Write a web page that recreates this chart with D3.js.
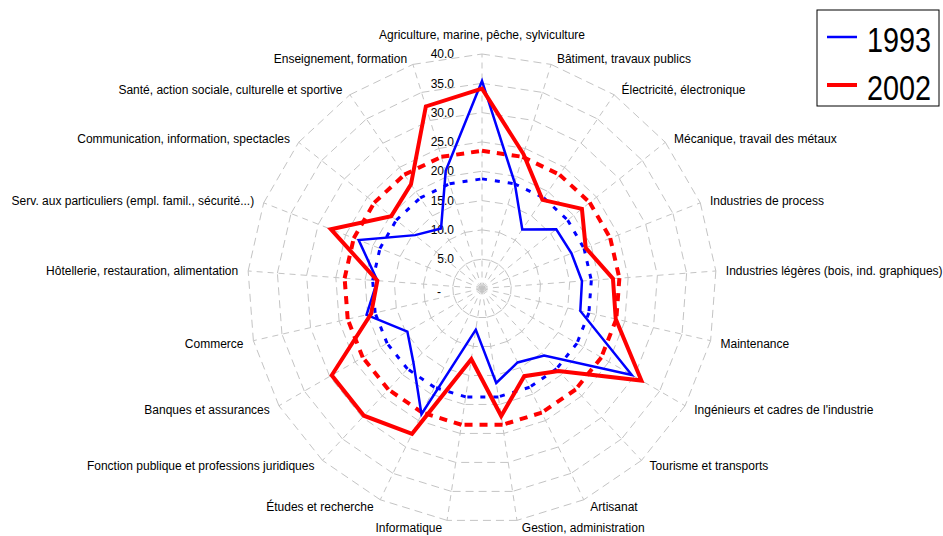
<!DOCTYPE html>
<html>
<head>
<meta charset="utf-8">
<script src="https://cdn.jsdelivr.net/npm/d3@7"></script>
<style>
  body { margin: 0; background: #fff; }
  svg { display: block; font-family: "Liberation Sans", Arial, sans-serif; }
</style>
</head>
<body>
<svg id="chart" width="943" height="536"></svg>
<script>
// Categories, clockwise from the top
const categories = [
    "Agriculture, marine, pêche, sylviculture",
    "Bâtiment, travaux publics",
    "Électricité, électronique",
    "Mécanique, travail des métaux",
    "Industries de process",
    "Industries légères (bois, ind. graphiques)",
    "Maintenance",
    "Ingénieurs et cadres de l'industrie",
    "Tourisme et transports",
    "Artisanat",
    "Gestion, administration",
    "Informatique",
    "Études et recherche",
    "Fonction publique et professions juridiques",
    "Banques et assurances",
    "Commerce",
    "Hôtellerie, restauration, alimentation",
    "Serv. aux particuliers (empl. famil., sécurité...)",
    "Communication, information, spectacles",
    "Santé, action sociale, culturelle et sportive",
    "Enseignement, formation"
];
const values1993 = [35.4, 18.9, 12.2, 16.2, 16.4, 17.1, 17.2, 29.5, 15.6, 14.0, 16.3, 7.1, 23.8, 17.2, 14.7, 20.2, 17.9, 22.6, 14.6, 12.4, 21.0];
const values2002 = [34.1, 24.0, 18.3, 21.8, 19.0, 22.4, 23.4, 31.4, 19.2, 16.6, 22.0, 12.2, 27.5, 29.6, 29.6, 19.4, 17.9, 27.7, 19.8, 21.5, 32.5];
const mean1993 = 18.7;
const mean2002 = 23.5;
const tickValues = [0, 5, 10, 15, 20, 25, 30, 35, 40];
const legendLabels = ["1993", "2002"];

const cx = 482, cy = 288.5;
const R = 234.5;
const n = categories.length;

const svg = d3.select("#chart");
const r = d3.scaleLinear().domain([0, 40]).range([0, R]);
const angle = d3.scaleLinear().domain([0, n]).range([0, 2 * Math.PI]);

const g = svg.append("g").attr("transform", `translate(${cx},${cy})`);

const pt = (i, v) => [r(v) * Math.sin(angle(i)), -r(v) * Math.cos(angle(i))];

// Spokes
g.append("g")
    .selectAll("line")
    .data(d3.range(n))
    .join("line")
    .attr("x1", 0).attr("y1", 0)
    .attr("x2", i => pt(i, 40)[0])
    .attr("y2", i => pt(i, 40)[1])
    .attr("stroke", "#c4c4c4")
    .attr("stroke-width", 1)
    .attr("stroke-dasharray", "6,5");

// Rings, drawn side by side so the dash restarts on every spoke like Excel
function ringSegments(v) {
    return d3.range(n).map(i => [pt(i, v), pt((i + 1) % n, v)]);
}
function dashedPolygon(parent, v, color, width, dash) {
    parent.append("g")
        .selectAll("line")
        .data(ringSegments(v))
        .join("line")
        .attr("x1", d => d[0][0]).attr("y1", d => d[0][1])
        .attr("x2", d => d[1][0]).attr("y2", d => d[1][1])
        .attr("stroke", color)
        .attr("stroke-width", width)
        .attr("stroke-dasharray", dash);
}
tickValues.filter(v => v > 0).forEach(v => dashedPolygon(g, v, "#c4c4c4", 1, "8,5"));

// Radial axis labels
g.append("g")
    .selectAll("text")
    .data(tickValues)
    .join("text")
    .attr("x", d => d === 0 ? -41 : -28)
    .attr("y", d => -r(d))
    .attr("dy", d => d === 0 ? "0.6em" : "0.35em")
    .attr("text-anchor", "end")
    .attr("font-size", 12)
    .text(d => d === 0 ? "-" : d3.format(".1f")(d));

// Category labels
g.append("g")
    .selectAll("text")
    .data(categories)
    .join("text")
    .attr("x", (d, i) => {
        const s = Math.sin(angle(i));
        return R * s + (Math.abs(s) < 0.05 ? 0 : Math.sign(s) * (4 + 6 * Math.abs(s)));
    })
    .attr("y", (d, i) => {
        const c = Math.cos(angle(i));
        return -R * c - 6 * c + (c < 0 ? 1.5 : 0) - (i === 0 ? 13 : 0);
    })
    .attr("dy", "0.35em")
    .attr("text-anchor", (d, i) => {
        const s = Math.sin(angle(i));
        return Math.abs(s) < 0.05 ? "middle" : s > 0 ? "start" : "end";
    })
    .attr("font-size", 12)
    .text(d => d);

// Averages
dashedPolygon(g, mean1993, "#0000ff", 3, "5,8");
dashedPolygon(g, mean2002, "#ff0000", 4, "8,7");

// Series
const line = d3.lineRadial()
    .angle((d, i) => angle(i))
    .radius(d => r(d))
    .curve(d3.curveLinearClosed);

g.append("path")
    .datum(values1993)
    .attr("d", line)
    .attr("fill", "none")
    .attr("stroke", "#0000ff")
    .attr("stroke-width", 2.5)
    .attr("stroke-linejoin", "miter");

g.append("path")
    .datum(values2002)
    .attr("d", line)
    .attr("fill", "none")
    .attr("stroke", "#ff0000")
    .attr("stroke-width", 4)
    .attr("stroke-linejoin", "miter");

// Legend
const legend = svg.append("g").attr("transform", "translate(817,10)");
legend.append("rect")
    .attr("width", 122).attr("height", 96)
    .attr("fill", "#fff")
    .attr("stroke", "#000")
    .attr("stroke-width", 1);
const legendColors = ["#0000ff", "#ff0000"];
const legendWidths = [2.5, 4];
legendLabels.forEach((lab, i) => {
    const y = 27 + i * 48;
    legend.append("line")
        .attr("x1", 10).attr("x2", 40)
        .attr("y1", y).attr("y2", y)
        .attr("stroke", legendColors[i])
        .attr("stroke-width", legendWidths[i]);
    // narrow digits: scale the text horizontally
    legend.append("text")
        .attr("transform", `translate(50,${y + 15}) scale(0.8,1)`)
        .attr("font-size", 36)
        .text(lab);
});
</script>
</body>
</html>
